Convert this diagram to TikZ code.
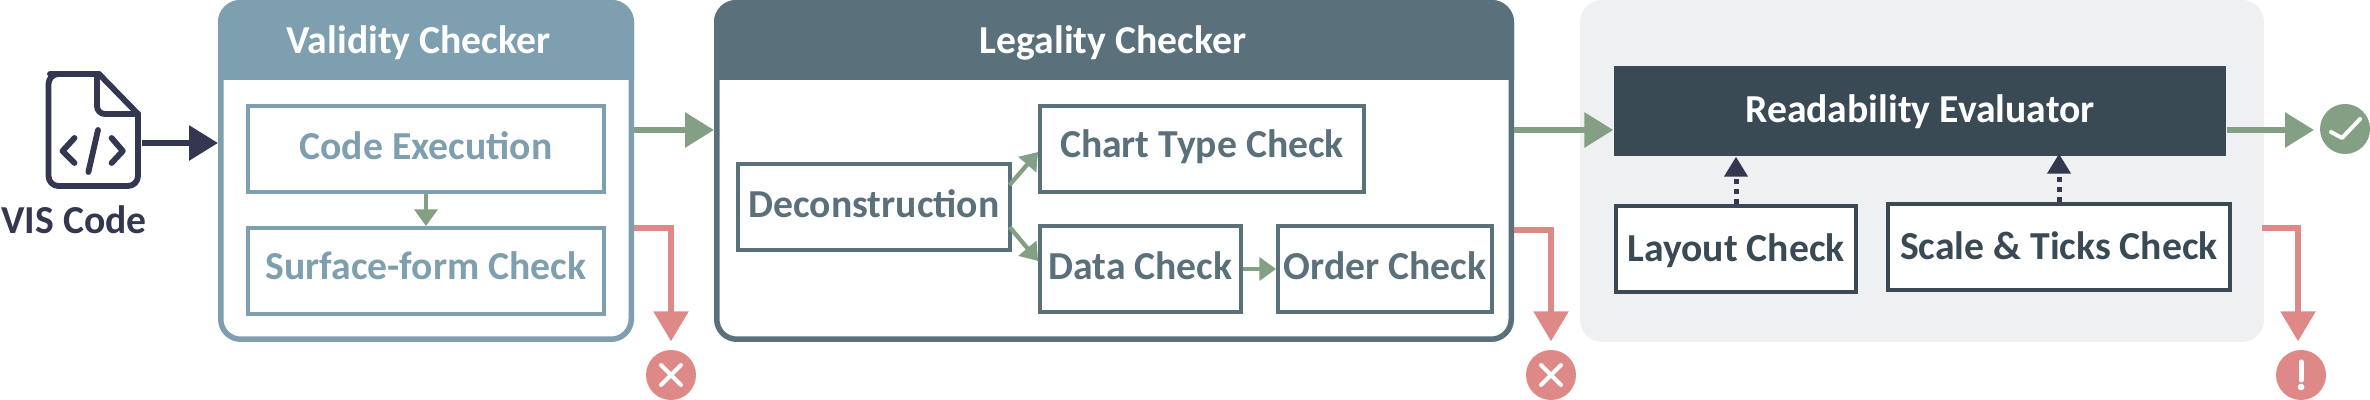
\documentclass[tikz,border=0pt]{standalone}
\usepackage{fontspec}
\setmainfont{Carlito}
\usetikzlibrary{arrows.meta,calc}
\definecolor{vcol}{HTML}{7D9FB0}
\definecolor{lcol}{HTML}{5A717C}
\definecolor{rcol}{HTML}{3A4A55}
\definecolor{icol}{HTML}{333750}
\definecolor{gcol}{HTML}{83A084}
\definecolor{ecol}{HTML}{DF8888}
\definecolor{pcol}{HTML}{EEF0F2}
\tikzset{
  sz/.style 2 args={minimum width=#1*0.3pt,minimum height=#2*0.3pt},
  bl/.style={text height=#1*0.6pt,text depth=0pt},
  lbl/.style={font=\fontsize{11.9}{13}\selectfont\bfseries,inner sep=0pt},
  frame/.style={draw=#1,fill=white,line width=1.65pt,rounded corners=6pt,inner sep=0pt},
  stepbox/.style={lbl,draw=#1,text=#1,fill=white,line width=1.15pt},
  headtxt/.style={lbl,text=white},
  bigflow/.style={draw=#1,line width=1.8pt,-{Triangle[length=8.7pt,width=10.2pt,color=#1]}},
  midflow/.style={draw=#1,line width=1.65pt,-{Triangle[length=9pt,width=10.2pt,color=#1]}},
  smallflow/.style={draw=gcol,line width=1.3pt,-{Triangle[length=5pt,width=6.8pt,color=gcol]}},
  dotflow/.style={draw=icol,line width=1.5pt,dash pattern=on 1.4pt off 1.6pt,-{Triangle[length=6pt,width=6.8pt,color=icol]}},
  badge/.style={circle,fill=#1,minimum size=15pt,inner sep=0pt},
  glyph/.style={draw=white,line width=1.2pt,line cap=round,line join=round},
  iconline/.style={draw=icol,line width=1.75pt,line cap=round,line join=round},
}
\begin{document}
\begin{tikzpicture}[x=0.3pt,y=-0.3pt]
\useasboundingbox (0,0) rectangle (2370,400);
\coordinate (flowlevel) at (0,130);
% icon
\draw[iconline,rounded corners=3pt] (99,74) -- (60,74) -- (48.5,74) -- (48.5,186) -- (138,186) -- (138,114);
\draw[iconline] (99,74) -- (138,114);
\draw[iconline,rounded corners=2.4pt] (97,74) -- (97,114) -- (138,114);
\draw[iconline] (74.5,138) -- (62.5,151) -- (74.5,163);
\draw[iconline] (111.6,138) -- (122.8,151) -- (111.6,163);
\draw[iconline] (98,130) -- (88.4,172);
\coordinate (filedoc) at (142,143);
\node[lbl,text=icol,anchor=base] (vis) at (74,234) {VIS Code};

% validity
\node[frame=vcol,sz={410.5}{336.5}] (vbox) at (426,171) {};
\fill[vcol] (vbox.west |- 0,80) [rounded corners=6.6pt] -- (vbox.north west) -- (vbox.north east) [sharp corners] -- (vbox.east |- 0,80) -- cycle;
\node[headtxt,anchor=base] (vhead) at (418.5,54) {Validity Checker};
\node[stepbox=vcol,sz={356}{86},bl=11] (code) at (426,149) {Code Execution};
\node[stepbox=vcol,sz={356}{86},bl=9] (surf) at (426,271) {Surface-form Check};
\draw[smallflow] (code.south) -- (surf.north);

% legality
\node[frame=lcol,sz={794.5}{336.5}] (lbox) at (1114,171) {};
\fill[lcol] (lbox.west |- 0,80) [rounded corners=6.6pt] -- (lbox.north west) -- (lbox.north east) [sharp corners] -- (lbox.east |- 0,80) -- cycle;
\node[headtxt,anchor=base] (lhead) at (1113,54) {Legality Checker};
\node[stepbox=lcol,sz={272}{86},bl=11] (dec) at (874,207) {Deconstruction};
\node[stepbox=lcol,sz={324}{86},bl=9] (chart) at (1202,149) {Chart Type Check};
\node[stepbox=lcol,sz={201}{86},bl=11] (data) at (1140.5,269) {Data Check};
\node[stepbox=lcol,sz={214}{86},bl=11] (order) at (1385,269) {Order Check};
\draw[smallflow] ([xshift=-0.7pt,yshift=6.6pt]dec.east) -- ([yshift=-0.9pt]chart.west);
\draw[smallflow] ([xshift=-0.7pt,yshift=-6pt]dec.east) -- ([yshift=2.4pt]data.west);
\draw[smallflow] (data.east) -- (order.west);

% readability
\node[fill=pcol,rounded corners=6.6pt,sz={684}{342},inner sep=0pt] (rpanel) at (1922,171) {};
\node[headtxt,fill=rcol,sz={612}{90},bl=12] (read) at (1920,111) {Readability Evaluator};
\node[stepbox=rcol,sz={240}{86},bl=13] (lay) at (1736,249) {Layout Check};
\node[stepbox=rcol,sz={342}{86},bl=13] (sca) at (2059,247) {Scale \& Ticks Check};
\draw[dotflow] (lay.north) -- (lay.north |- read.south);
\draw[dotflow,shorten >=-0.9pt] (sca.north) -- (sca.north |- read.south);

% flow arrows
\node[badge=ecol] (fail1) at (671,375) {};
\node[badge=ecol] (fail2) at (1551,375) {};
\node[badge=ecol] (warn) at (2301,375) {};
\node[badge=gcol] (pass) at (2345,129) {};
\draw[glyph] ([shift={(-10,-10)}]fail1.center) -- ([shift={(10,10)}]fail1.center);
\draw[glyph] ([shift={(10,-10)}]fail1.center) -- ([shift={(-10,10)}]fail1.center);
\draw[glyph] ([shift={(-10,-10)}]fail2.center) -- ([shift={(10,10)}]fail2.center);
\draw[glyph] ([shift={(10,-10)}]fail2.center) -- ([shift={(-10,10)}]fail2.center);
\draw[glyph,line width=1.5pt] ([shift={(0,-13)}]warn.center) -- ([shift={(0,5)}]warn.center);
\fill[white] ([shift={(0,12)}]warn.center) circle (1pt);
\draw[glyph] ([shift={(-14,3)}]pass.center) -- ([shift={(-3,9)}]pass.center) -- ([shift={(15,-10)}]pass.center);

\draw[bigflow=icol] (filedoc) -- (vbox.west |- filedoc);
\draw[bigflow=gcol] (vbox.east |- flowlevel) -- (lbox.west |- flowlevel);
\draw[bigflow=gcol] (lbox.east |- flowlevel) -- (read.west |- flowlevel);
\draw[bigflow=gcol] (read.east |- flowlevel) -- ([xshift=-9.3pt]pass.center |- flowlevel);
\coordinate (f1) at (634,228);
\coordinate (f2) at (1514,230);
\coordinate (f3) at (2262,228);
\draw[midflow=ecol] (f1) -| ([yshift=2.4pt]fail1.north);
\draw[midflow=ecol] (f2) -| ([yshift=2.4pt]fail2.north);
\draw[midflow=ecol] (f3) -| ([xshift=-0.9pt,yshift=2.4pt]warn.north);
\end{tikzpicture}
\end{document}
